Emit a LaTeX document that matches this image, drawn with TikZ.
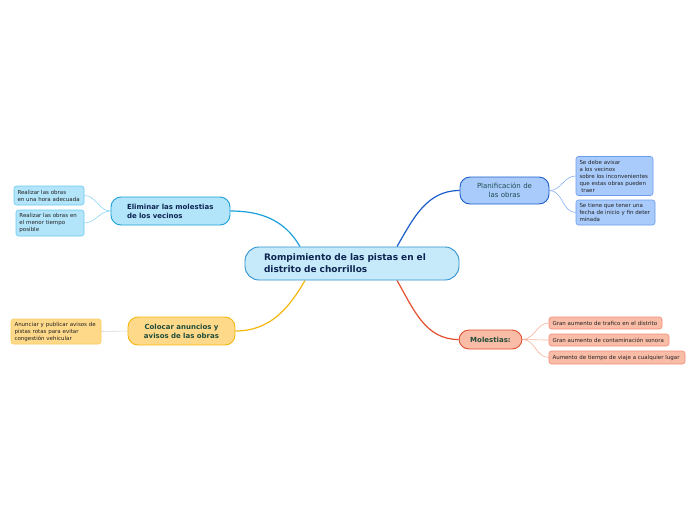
\documentclass[tikz,border=0pt]{standalone}
\usepackage{fontspec}
\setmainfont{DejaVu Sans}
\usetikzlibrary{calc,backgrounds}
\definecolor{cfill}{HTML}{C7EAFB}
\definecolor{cdraw}{HTML}{2C93CF}
\definecolor{ctext}{HTML}{0D2451}
\definecolor{pfill}{HTML}{A9CBFB}
\definecolor{pdraw}{HTML}{1B5DCB}
\definecolor{ptext}{HTML}{1E4E50}
\definecolor{pcdraw}{HTML}{6B9CF0}
\definecolor{pline}{HTML}{8AB2F5}
\definecolor{mfill}{HTML}{F9BCA6}
\definecolor{mdraw}{HTML}{E4502F}
\definecolor{mcdraw}{HTML}{F08E76}
\definecolor{mline}{HTML}{F8B39E}
\definecolor{efill}{HTML}{B2E4FA}
\definecolor{edraw}{HTML}{1AA1DA}
\definecolor{ecdraw}{HTML}{6CCBF0}
\definecolor{eline}{HTML}{8ED6F4}
\definecolor{kfill}{HTML}{FFD98A}
\definecolor{kdraw}{HTML}{F3B70C}
\definecolor{kcdraw}{HTML}{F8CB5A}
\definecolor{kline}{HTML}{D8D8D8}
\definecolor{gtext}{HTML}{1F4D3A}
\definecolor{subtext}{HTML}{222222}
\begin{document}
\begin{tikzpicture}[x=1pt,y=-1pt,
  mainbox/.style={draw, rounded corners=10pt, line width=0.9pt, inner ysep=0pt},
  subbox/.style={draw, rounded corners=2.5pt, line width=0.6pt, inner ysep=0pt, inner xsep=3.5pt,
    align=left, font=\fontsize{5.5}{7}\selectfont, text=subtext},
  mainline/.style={line width=1.2pt},
  subline/.style={line width=0.6pt}]
\useasboundingbox (0,0) rectangle (696,520);

% central node
\node[mainbox, fill=cfill, draw=cdraw, text=ctext, minimum width=214pt, minimum height=33pt,
  inner xsep=19pt, text width=176pt, align=left, rounded corners=14pt,
  font=\fontsize{9}{12}\selectfont\bfseries] (c) at (352,263.5)
  {Rompimiento de las pistas en el\\distrito de chorrillos};

% Planificacion
\node[mainbox, fill=pfill, draw=pdraw, text=ptext, minimum width=89pt, minimum height=27pt,
  inner xsep=2pt, text width=85pt, align=center, font=\fontsize{7}{9}\selectfont] (p) at (504.5,190.5)
  {Planificación de\\las obras};
\node[subbox, fill=pfill, draw=pcdraw, minimum width=77pt, minimum height=39pt, text width=70pt] (p1) at (614.5,176)
  {Se debe avisar\\a los vecinos\\sobre los inconvenientes\\que estas obras pueden\\\ traer};
\node[subbox, fill=pfill, draw=pcdraw, minimum width=79pt, minimum height=25pt, text width=72pt] (p2) at (615.5,212.5)
  {Se tiene que tener una\\fecha de inicio y fin deter\\minada};

% Molestias
\node[mainbox, fill=mfill, draw=mdraw, text=gtext, minimum width=63pt, minimum height=19pt,
  inner xsep=2pt, text width=59pt, align=center, font=\fontsize{7}{9}\selectfont\bfseries] (m) at (490.5,339.5)
  {Molestias:};
\node[subbox, fill=mfill, draw=mcdraw, minimum width=113pt, minimum height=12pt, text width=106pt] (m1) at (605.5,323)
  {Gran aumento de trafico en el distrito};
\node[subbox, fill=mfill, draw=mcdraw, minimum width=120pt, minimum height=12pt, text width=113pt] (m2) at (609,340)
  {Gran aumento de contaminación sonora};
\node[subbox, fill=mfill, draw=mcdraw, minimum width=136pt, minimum height=13pt, text width=129pt] (m3) at (617,357.5)
  {Aumento de tiempo de viaje a cualquier lugar};

% Eliminar
\node[mainbox, fill=efill, draw=edraw, text=ctext, minimum width=119pt, minimum height=28pt,
  inner xsep=16pt, text width=87pt, align=left, font=\fontsize{7}{9}\selectfont\bfseries] (e) at (170.5,211)
  {Eliminar las molestias\\de los vecinos};
\node[subbox, fill=efill, draw=ecdraw, minimum width=70pt, minimum height=19pt, text width=63pt] (e1) at (49,195.5)
  {Realizar las obras\\en una hora adecuada};
\node[subbox, fill=efill, draw=ecdraw, minimum width=68pt, minimum height=26pt, text width=61pt] (e2) at (50,223)
  {Realizar las obras en\\el menor tiempo\\posible};

% Colocar
\node[mainbox, fill=kfill, draw=kdraw, text=gtext, minimum width=107pt, minimum height=28pt,
  inner xsep=2pt, text width=103pt, align=center, font=\fontsize{7}{9}\selectfont\bfseries] (k) at (181.5,331)
  {Colocar anuncios y\\avisos de las obras};
\node[subbox, fill=kfill, draw=kcdraw, minimum width=90pt, minimum height=25pt, text width=83pt] (k1) at (56,331.5)
  {Anunciar y publicar avisos de\\pistas rotas para evitar\\congestión vehicular};

\begin{pgfonlayer}{background}
\fill[white] (0,0) rectangle (696,520);
% main connectors
\draw[mainline, draw=pdraw] ($(c.north)+(45,0)$) to[out=60, in=180] (p.west);
\draw[mainline, draw=mdraw] ($(c.south)+(45,0)$) to[out=-60, in=180] (m.west);
\draw[mainline, draw=edraw] ($(c.north)+(-52,0)$) to[out=120, in=0] (e.east);
\draw[mainline, draw=kdraw] ($(c.south)+(-47,0)$) to[out=-120, in=0] (k.east);
% sub connectors
\draw[subline, draw=pline] (p.east) to[out=0, in=180] (p1.west);
\draw[subline, draw=pline] (p.east) to[out=0, in=180] (p2.west);
\draw[subline, draw=mline] (m.east) to[out=0, in=180] (m1.west);
\draw[subline, draw=mline] (m.east) to[out=0, in=180] (m2.west);
\draw[subline, draw=mline] (m.east) to[out=0, in=180] (m3.west);
\draw[subline, draw=eline] (e.west) to[out=180, in=0] (e1.east);
\draw[subline, draw=eline] (e.west) to[out=180, in=0] (e2.east);
\draw[subline, draw=kline] (k.west) -- (k1.east);
\end{pgfonlayer}
\end{tikzpicture}
\end{document}
